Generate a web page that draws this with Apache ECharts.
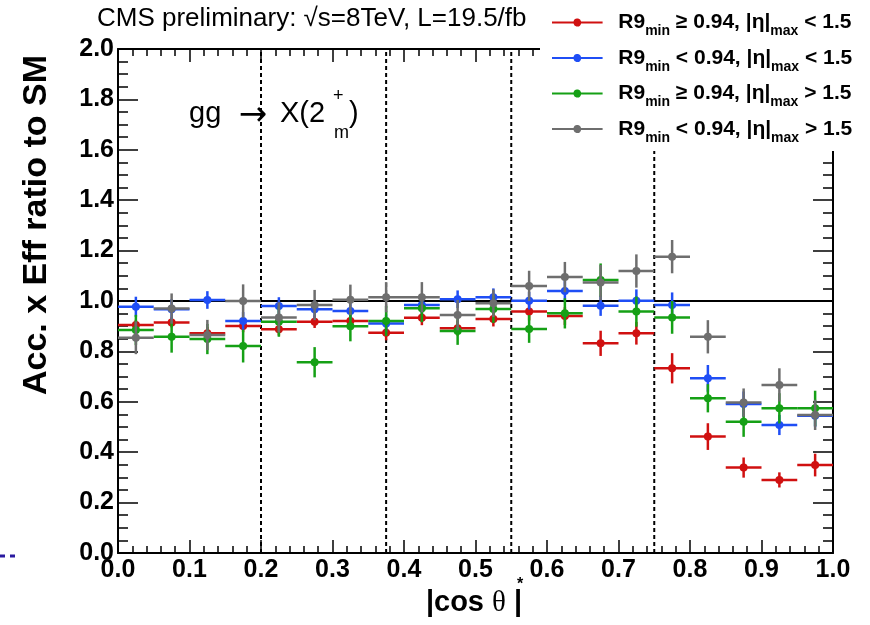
<!DOCTYPE html>
<html>
<head>
<meta charset="utf-8">
<script src="https://cdn.jsdelivr.net/npm/echarts@6/dist/echarts.min.js"></script>
<style>
  html, body { margin: 0; padding: 0; background: #fff; }
  #chart { width: 870px; height: 625px; }
</style>
</head>
<body>
<div id="chart"></div>
<script>
// bin centres of |cos theta*| (bin width 0.05)
const binCenters = [0.025, 0.075, 0.125, 0.175, 0.225, 0.275, 0.325, 0.375, 0.425, 0.475,
                    0.525, 0.575, 0.625, 0.675, 0.725, 0.775, 0.825, 0.875, 0.925, 0.975];
const binWidth = 0.05;

// category boundaries (dashed lines)
const catBounds = [0.2, 0.375, 0.55, 0.75];
const smLevel = 1.0;

const seriesNames = [
    'R9_min ≥ 0.94, |η|_max < 1.5',
    'R9_min < 0.94, |η|_max < 1.5',
    'R9_min ≥ 0.94, |η|_max > 1.5',
    'R9_min < 0.94, |η|_max > 1.5'
];
const seriesColors = ['#d01010', '#1f4ef5', '#15a015', '#6e6e6e'];

const redVals   = [0.905, 0.915, 0.872, 0.901, 0.888, 0.918, 0.921, 0.874, 0.934, 0.892,
                   0.929, 0.958, 0.940, 0.832, 0.872, 0.733, 0.462, 0.339, 0.290, 0.349];
const redErrs   = [0.020, 0.020, 0.025, 0.025, 0.025, 0.025, 0.025, 0.030, 0.030, 0.030,
                   0.030, 0.035, 0.035, 0.050, 0.045, 0.060, 0.053, 0.040, 0.030, 0.045];
const blueVals  = [0.977, 0.967, 1.004, 0.921, 0.980, 0.967, 0.960, 0.911, 0.984, 1.007,
                   1.015, 1.001, 1.040, 0.981, 1.001, 0.984, 0.693, 0.591, 0.508, 0.545];
const blueErrs  = [0.040, 0.040, 0.035, 0.035, 0.035, 0.035, 0.035, 0.035, 0.035, 0.035,
                   0.035, 0.035, 0.040, 0.040, 0.045, 0.050, 0.053, 0.050, 0.040, 0.045];
const greenVals = [0.885, 0.858, 0.849, 0.821, 0.918, 0.757, 0.900, 0.921, 0.971, 0.881,
                   0.968, 0.889, 0.951, 1.083, 0.958, 0.935, 0.614, 0.521, 0.574, 0.574];
const greenErrs = [0.060, 0.063, 0.060, 0.065, 0.060, 0.060, 0.060, 0.060, 0.055, 0.055,
                   0.055, 0.055, 0.060, 0.066, 0.060, 0.065, 0.056, 0.060, 0.060, 0.070];
const grayVals  = [0.854, 0.970, 0.865, 1.000, 0.935, 0.984, 1.005, 1.015, 1.015, 0.944,
                   0.991, 1.060, 1.095, 1.073, 1.119, 1.176, 0.858, 0.597, 0.667, 0.548];
const grayErrs  = [0.065, 0.060, 0.060, 0.066, 0.060, 0.060, 0.060, 0.060, 0.060, 0.060,
                   0.055, 0.060, 0.060, 0.070, 0.066, 0.066, 0.066, 0.056, 0.066, 0.060];

const xTicks = { min: 0, max: 1, step: 0.1 };
const yTicks = { min: 0, max: 2, step: 0.2 };

const allVals = [redVals, blueVals, greenVals, grayVals];
const allErrs = [redErrs, blueErrs, greenErrs, grayErrs];

const FONT = 'Liberation Sans, Arial, Helvetica, sans-serif';

function renderPoint(params, api) {
    const x = api.value(0), y = api.value(1), e = api.value(2);
    const half = binWidth / 2;
    const l = api.coord([x - half, y]);
    const r = api.coord([x + half, y]);
    const t = api.coord([x, y + e]);
    const b = api.coord([x, y - e]);
    const c = api.coord([x, y]);
    const color = api.visual('color');
    return {
        type: 'group',
        children: [
            { type: 'line', shape: { x1: l[0], y1: l[1], x2: r[0], y2: r[1] }, style: { stroke: color, lineWidth: 2.5 } },
            { type: 'line', shape: { x1: t[0], y1: t[1], x2: b[0], y2: b[1] }, style: { stroke: color, lineWidth: 2.5 } },
            { type: 'circle', shape: { cx: c[0], cy: c[1], r: 4 }, style: { fill: color } }
        ]
    };
}

function renderGuides(params, api) {
    const kind = api.value(2);
    if (kind === 0) {
        // vertical dashed boundary
        const v = api.value(0);
        const p1 = api.coord([v, yTicks.min]);
        const p2 = api.coord([v, yTicks.max]);
        return { type: 'line', shape: { x1: p1[0], y1: p1[1], x2: p2[0], y2: p2[1] },
                 style: { stroke: '#000', lineWidth: 2, lineDash: [4, 3] } };
    }
    const h = api.value(1);
    const a = api.coord([xTicks.min, h]);
    const z = api.coord([xTicks.max, h]);
    return { type: 'line', shape: { x1: a[0], y1: a[1], x2: z[0], y2: z[1] },
             style: { stroke: '#000', lineWidth: 2 } };
}

const guideData = catBounds.map(v => [v, 0, 0]).concat([[0, smLevel, 1]]);

const series = [{
    type: 'custom',
    name: 'guides',
    renderItem: renderGuides,
    data: guideData,
    encode: { x: 0, y: 1 },
    silent: true,
    z: 1
}];
seriesNames.forEach((name, i) => {
    series.push({
        type: 'custom',
        name: name,
        renderItem: renderPoint,
        itemStyle: { color: seriesColors[i] },
        data: binCenters.map((x, k) => [x, allVals[i][k], allErrs[i][k]]),
        encode: { x: 0, y: 1 },
        z: 2 + i
    });
});

// legend icon: line with dot in the middle
const legendIcon = 'path://M0,3H22.1A4,4 0 0 1 29.9,3H52V5H29.9A4,4 0 0 1 22.1,5H0Z';

function axisCommon(extra) {
    return Object.assign({
        type: 'value',
        splitLine: { show: false },
        axisLine: { show: true, onZero: false, lineStyle: { color: '#000', width: 2 } },
        axisTick: { show: true, inside: true, lineStyle: { color: '#000', width: 1.5 } },
        minorTick: { show: true, lineStyle: { color: '#000', width: 1.5 } },
        axisLabel: { show: false }
    }, extra);
}

const labelStyle = { show: true, color: '#000', fontFamily: FONT, fontWeight: 'bold', fontSize: 25,
                     formatter: v => v.toFixed(1) };

const option = {
    animation: false,
    backgroundColor: '#fff',
    grid: { left: 118, right: 37, top: 49, bottom: 72 },
    xAxis: [
        axisCommon({ position: 'bottom', min: xTicks.min, max: xTicks.max, interval: xTicks.step,
            axisTick: { show: true, inside: true, length: 13, lineStyle: { color: '#000', width: 1.5 } },
            minorTick: { show: true, splitNumber: 5, length: 7, lineStyle: { color: '#000', width: 1.5 } },
            axisLabel: Object.assign({ margin: 5 }, labelStyle) }),
        axisCommon({ position: 'top', min: xTicks.min, max: xTicks.max, interval: xTicks.step,
            axisTick: { show: true, inside: true, length: 13, lineStyle: { color: '#000', width: 1.5 } },
            minorTick: { show: true, splitNumber: 5, length: 7, lineStyle: { color: '#000', width: 1.5 } } })
    ],
    yAxis: [
        axisCommon({ position: 'left', min: yTicks.min, max: yTicks.max, interval: yTicks.step,
            axisTick: { show: true, inside: true, length: 20, lineStyle: { color: '#000', width: 1.5 } },
            minorTick: { show: true, splitNumber: 4, length: 10, lineStyle: { color: '#000', width: 1.5 } },
            axisLabel: Object.assign({ margin: 4 }, labelStyle) }),
        axisCommon({ position: 'right', min: yTicks.min, max: yTicks.max, interval: yTicks.step,
            axisTick: { show: true, inside: true, length: 20, lineStyle: { color: '#000', width: 1.5 } },
            minorTick: { show: true, splitNumber: 4, length: 10, lineStyle: { color: '#000', width: 1.5 } } })
    ],
    legend: {
        orient: 'vertical',
        left: 540,
        top: 0,
        padding: [12, 20, 6, 12],
        backgroundColor: '#fff',
        itemGap: 9,
        itemWidth: 56,
        itemHeight: 8,
        selectedMode: false,
        data: seriesNames.map(n => ({ name: n, icon: legendIcon })),
        formatter: name => '{sp| }' + name.replace(/_(\w+)/g, '{s|$1}'),
        textStyle: {
            color: '#000', fontFamily: FONT, fontWeight: 'bold', fontSize: 21,
            rich: {
                sp: { width: 8 },
                s: { fontFamily: FONT, fontWeight: 'bold', fontSize: 14, color: '#000', padding: [18, 0, 0, 0] }
            }
        }
    },
    graphic: [
        { type: 'text', x: 97, y: 19, style: { text: 'CMS preliminary: √s=8TeV, L=19.5/fb',
            font: '26px ' + FONT, fill: '#000', textAlign: 'left', textVerticalAlign: 'middle' } },
        { type: 'text', x: 189, y: 114, style: { text: 'gg',
            font: '29px ' + FONT, fill: '#000', textAlign: 'left', textVerticalAlign: 'middle' } },
        { type: 'text', x: 253, y: 116, style: { text: '→',
            font: '34px DejaVu Sans, sans-serif', fill: '#000', textAlign: 'center', textVerticalAlign: 'middle' } },
        { type: 'text', x: 280, y: 114, style: { text: 'X(2',
            font: '29px ' + FONT, fill: '#000', textAlign: 'left', textVerticalAlign: 'middle' } },
        { type: 'text', x: 333, y: 96, style: { text: '+',
            font: '18px ' + FONT, fill: '#000', textAlign: 'left', textVerticalAlign: 'middle' } },
        { type: 'text', x: 334, y: 133, style: { text: 'm',
            font: '18px ' + FONT, fill: '#000', textAlign: 'left', textVerticalAlign: 'middle' } },
        { type: 'text', x: 349, y: 114, style: { text: ')',
            font: '29px ' + FONT, fill: '#000', textAlign: 'left', textVerticalAlign: 'middle' } },
        { type: 'text', x: 37, y: 225, rotation: Math.PI / 2, style: { text: 'Acc. x Eff ratio to SM',
            font: 'bold 34px ' + FONT, fill: '#000', textAlign: 'center', textVerticalAlign: 'middle' } },
        { type: 'text', x: 474, y: 603, style: { text: '{a||cos }{t|θ}{a| |}',
            fill: '#000', textAlign: 'center', textVerticalAlign: 'middle',
            rich: { a: { fontFamily: FONT, fontWeight: 'bold', fontSize: 29, fill: '#000' },
                    t: { fontFamily: 'Liberation Serif, serif', fontSize: 29, fill: '#000' } } } },
        { type: 'text', x: 520, y: 585, style: { text: '*',
            font: 'bold 16px ' + FONT, fill: '#000', textAlign: 'center', textVerticalAlign: 'middle' } },
        { type: 'line', shape: { x1: 0, y1: 556, x2: 15, y2: 556 },
            style: { stroke: '#2a1aa0', lineWidth: 3, lineDash: [5, 5] } }
    ],
    series: series
};

const chart = echarts.init(document.getElementById('chart'), null, { renderer: 'canvas' });
chart.setOption(option);
</script>
</body>
</html>
